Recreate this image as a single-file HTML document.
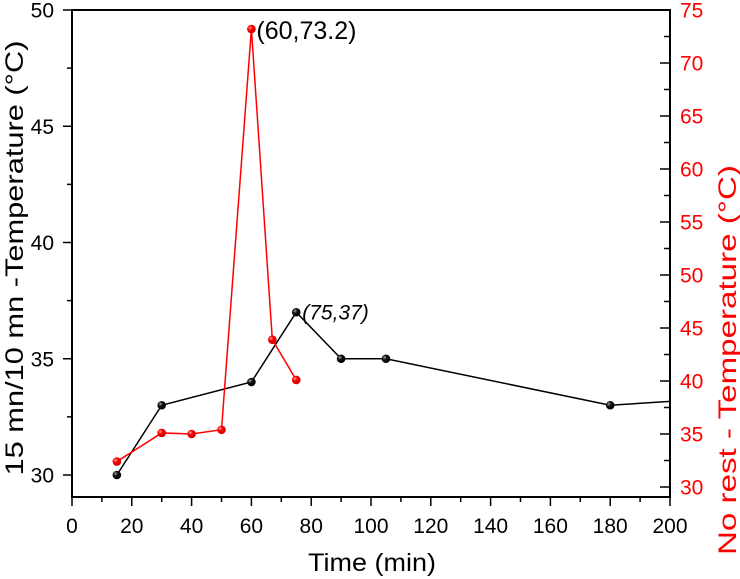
<!DOCTYPE html>
<html><head><meta charset="utf-8"><style>
body{margin:0;background:#fff;}
svg{display:block;font-family:"Liberation Sans",Arial,sans-serif;}
</style></head><body>
<svg id="chart" width="740" height="579" viewBox="0 0 740 579">
<defs>
<radialGradient id="gb" cx="35%" cy="35%" r="65%"><stop offset="0" stop-color="#aaa"/><stop offset="0.4" stop-color="#111"/><stop offset="1" stop-color="#000"/></radialGradient>
<radialGradient id="gr" cx="35%" cy="35%" r="65%"><stop offset="0" stop-color="#ffb0b0"/><stop offset="0.4" stop-color="#f00"/><stop offset="1" stop-color="#c00"/></radialGradient>
<clipPath id="plotclip"><rect x="72" y="10" width="598" height="487"/></clipPath>
</defs>
<g id="axes"></g>
<g id="series" clip-path="url(#plotclip)"></g>
<g id="marks"></g>
</svg>
<script>
const blackX=[15,30,60,75,90,105,180,240];
const blackY=[30,33,34,37,35,35,33,33.5];
const redX=[15,30,40,50,60,67,75];
const redY=[32.4,35.1,35.0,35.4,73.2,43.9,40.1];
const xTicks=[0,20,40,60,80,100,120,140,160,180,200];
const leftTicks=[30,35,40,45,50];
const rightTicks=[30,35,40,45,50,55,60,65,70,75];

const X0=72,X1=670,YT=10,YB=497;
const xs=v=>X0+(v-0)/(200-0)*(X1-X0);
const yl=v=>475-(v-30)*(465/20);
const yr=v=>487-(v-30)*(477/45);
const NS="http://www.w3.org/2000/svg";
function mk(tag,attrs,parent,text){const e=document.createElementNS(NS,tag);for(const k in attrs)e.setAttribute(k,attrs[k]);if(text!==undefined)e.textContent=text;parent.appendChild(e);return e;}
const ax=document.getElementById('axes'),se=document.getElementById('series'),mg=document.getElementById('marks');

let fr=mk('rect',{x:X0,y:YT,width:X1-X0,height:YB-YT,fill:'none',stroke:'#000','stroke-width':2},ax);



for(let v=0;v<=200;v+=10){
  const major=v%20===0;
  let t=mk('line',{x1:xs(v),x2:xs(v),y1:YB,y2:YB+(major?9:5),stroke:'#000','stroke-width':1.5},ax);
  
  
}
xTicks.forEach(v=>{
  let t=mk('text',{x:xs(v),y:533,'text-anchor':'middle','font-size':21},ax,String(v));
  
  
});
for(let v=30;v<=50;v+=2.5){
  const major=v%5===0;
  let t=mk('line',{x1:X0-(major?9:5),x2:X0,y1:yl(v),y2:yl(v),stroke:'#000','stroke-width':1.5},ax);
  
  
}
leftTicks.forEach(v=>{
  let t=mk('text',{x:54,y:yl(v)+7.5,'text-anchor':'end','font-size':21},ax,String(v));
  
  
});
for(let v=30;v<=75;v+=2.5){
  const major=v%5===0;
  let t=mk('line',{x1:X1-(major?10:6),x2:X1,y1:yr(v),y2:yr(v),stroke:'#000','stroke-width':1.5},ax);
  
  
}
rightTicks.forEach(v=>{
  let t=mk('text',{x:680,y:yr(v)+7.5,'font-size':21,fill:'#f00'},ax,String(v));
  
  
});
let tx=mk('text',{x:372,y:571,'text-anchor':'middle','font-size':25,textLength:128,lengthAdjust:'spacingAndGlyphs'},ax,'Time (min)');


let tl=mk('text',{x:0,y:0,'text-anchor':'middle','font-size':25,textLength:435,lengthAdjust:'spacingAndGlyphs',transform:'translate(23,258) rotate(-90)'},ax,'15 mn/10 mn -Temperature (°C)');


let tr=mk('text',{x:0,y:0,'text-anchor':'middle','font-size':25,fill:'#f00',textLength:390,lengthAdjust:'spacingAndGlyphs',transform:'translate(736,360) rotate(-90)'},ax,'No rest - Temperature (°C)');



let pb=mk('polyline',{points:blackX.map((x,i)=>xs(x)+','+yl(blackY[i])).join(' '),fill:'none',stroke:'#000','stroke-width':1.5},se);


let pr=mk('polyline',{points:redX.map((x,i)=>xs(x)+','+yr(redY[i])).join(' '),fill:'none',stroke:'#f00','stroke-width':1.5},se);


blackX.forEach((x,i)=>{
  if(x>200)return;
  let c=mk('circle',{cx:xs(x),cy:yl(blackY[i]),r:4.3,fill:'url(#gb)'},mg);
  
  
});
redX.forEach((x,i)=>{
  let c=mk('circle',{cx:xs(x),cy:yr(redY[i]),r:4.3,fill:'url(#gr)'},mg);
  
  
});
let a1=mk('text',{x:xs(60)+5,y:yr(73.2)+10,'font-size':25},mg,'(60,73.2)');


let a2=mk('text',{x:xs(75)+6,y:yl(37)+7,'font-size':21,'font-style':'italic'},mg,'(75,37)');


</script>
</body></html>
